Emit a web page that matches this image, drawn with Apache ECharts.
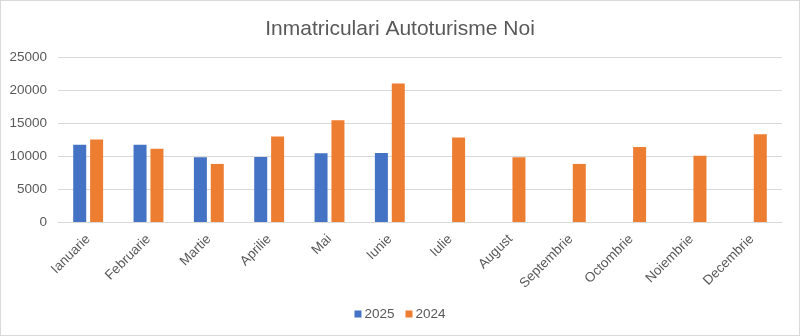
<!DOCTYPE html>
<html><head><meta charset="utf-8">
<script src="https://cdn.jsdelivr.net/npm/echarts@6/dist/echarts.min.js"></script>
<style>html,body{margin:0;padding:0;background:#fff}#c{width:800px;height:336px;box-sizing:border-box;border:1px solid #d9d9d9}</style>
</head><body><div id="c"></div>
<script>
const categories = ['Ianuarie','Februarie','Martie','Aprilie','Mai','Iunie','Iulie','August','Septembrie','Octombrie','Noiembrie','Decembrie'];
const series2025 = [11700, 11700, 9800, 9850, 10400, 10450, null, null, null, null, null, null];
const series2024 = [12500, 11100, 8800, 12970, 15400, 21000, 12800, 9800, 8800, 11350, 10050, 13300];
const yTicks = {min: 0, max: 25000, interval: 5000};

const chart = echarts.init(document.getElementById('c'));
const font = 'Liberation Sans';
chart.setOption({
  animation: false,
  title: {text: 'Inmatriculari Autoturisme Noi', left: 'center', top: 13,
    textStyle: {fontFamily: font, fontSize: 21, fontWeight: 'normal', color: '#595959'}},
  legend: {bottom: 9, left: 'center', itemWidth: 7, itemHeight: 7, itemGap: 11, icon: 'rect',
    textStyle: {fontFamily: font, fontSize: 13.5, color: '#595959', padding: [0,0,0,-2]}},
  grid: {left: 57, right: 17, top: 56, bottom: 113, containLabel: false},
  xAxis: {type: 'category', data: categories,
    axisLine: {lineStyle: {color: '#d9d9d9'}}, axisTick: {show: false},
    axisLabel: {rotate: 45, interval: 0, margin: 15, fontFamily: font, fontSize: 13.5, color: '#595959'}},
  yAxis: {type: 'value', min: yTicks.min, max: yTicks.max, interval: yTicks.interval,
    axisLine: {show: false}, axisTick: {show: false},
    splitLine: {lineStyle: {color: '#d9d9d9'}},
    axisLabel: {margin: 11, fontFamily: font, fontSize: 13.5, color: '#595959', formatter: v => String(v)}},
  series: [
    {name: '2025', type: 'bar', data: series2025, barWidth: 13, barGap: '30%', itemStyle: {color: '#4472c4'}},
    {name: '2024', type: 'bar', data: series2024, barWidth: 13, itemStyle: {color: '#ed7d31'}}
  ]
});
</script></body></html>
